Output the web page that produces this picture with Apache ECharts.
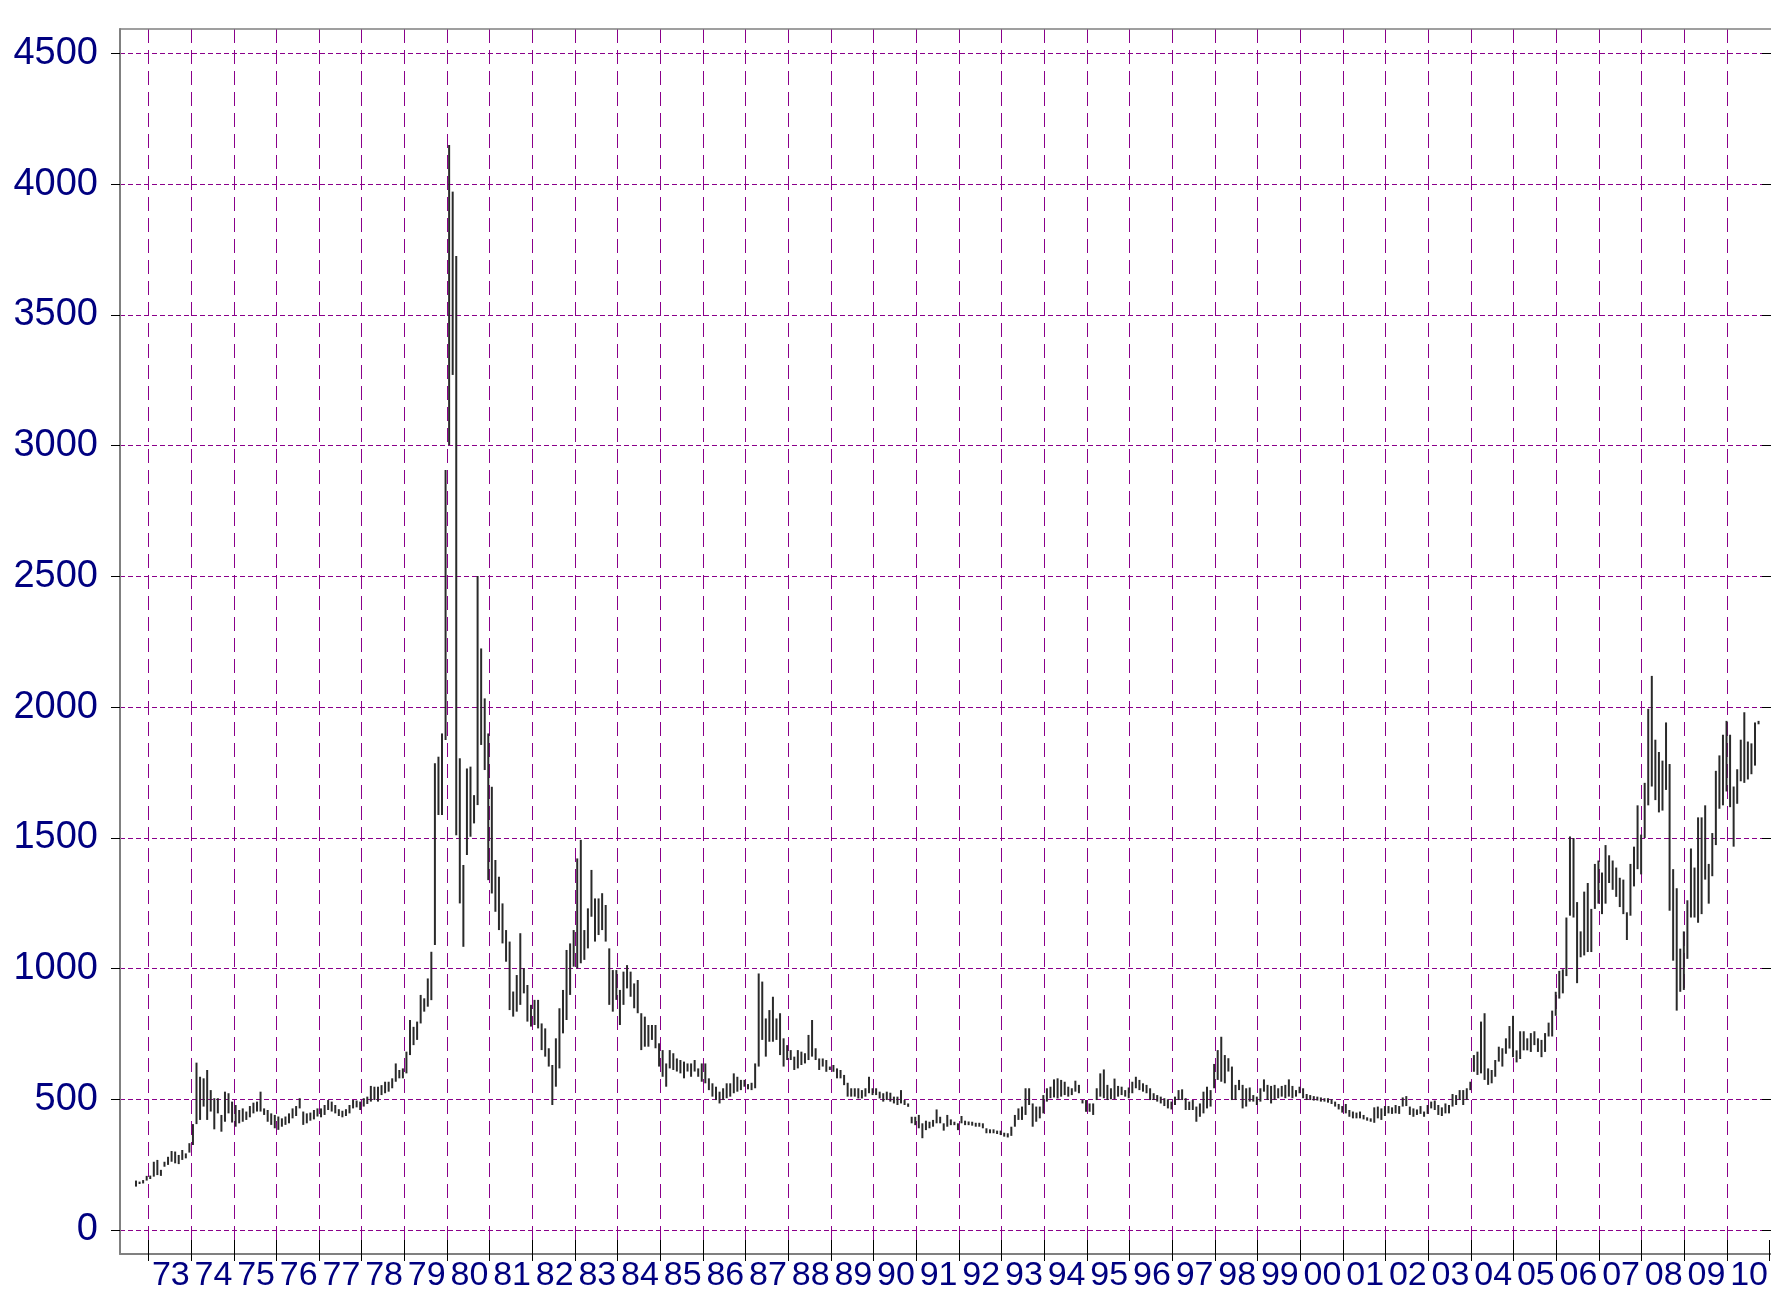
<!DOCTYPE html>
<html><head><meta charset="utf-8">
<script src="https://cdn.jsdelivr.net/npm/echarts@6/dist/echarts.min.js"></script>
<style>html,body{margin:0;padding:0;background:#fff}#chart{width:1771px;height:1293px}</style>
</head><body><div id="chart"></div>
<script>
// Monthly high/low bars, first bar = September 1972
const startYear = 1972, startMonth = 9;
const high = [
  189,185,191,207,
  208,261,268,230,261,280,302,300,287,306,293,332,
  405,640,586,580,612,535,504,504,440,529,523,491,
  478,459,465,453,474,487,491,529,465,459,446,440,
  434,427,434,446,465,474,504,453,446,449,459,465,
  465,478,497,491,478,462,456,462,478,497,495,491,
  504,510,551,548,548,554,567,567,580,637,612,618,
  682,803,777,797,899,886,962,1064,1785,1810,1899,2906,
  4149,3971,3725,1804,1396,1765,1772,1663,2501,2224,2033,1899,
  1695,1415,1351,1249,1147,1103,912,975,1135,1001,937,861,
  880,880,790,771,695,631,733,848,918,1071,1096,1147,
  1421,1492,1147,1230,1377,1268,1268,1288,1243,1077,994,994,
  918,988,1013,988,943,956,829,816,784,784,784,714,
  688,637,688,676,656,650,644,637,637,650,618,637,
  637,580,561,548,529,542,561,561,599,586,574,574,
  558,563,637,981,950,809,841,892,809,829,733,707,
  688,663,688,682,676,746,803,695,656,656,650,625,
  631,618,612,593,563,542,542,542,535,542,586,542,
  542,529,523,529,525,510,510,535,497,484,433,433,
  440,408,418,414,421,461,433,408,440,423,414,408,
  436,418,415,414,410,410,408,389,385,385,380,380,
  372,370,395,440,465,472,542,542,484,472,472,516,
  542,548,576,580,574,567,548,542,571,555,497,497,
  484,484,542,599,614,555,542,579,551,548,535,545,
  567,586,574,561,555,542,523,516,510,504,500,491,
  510,535,538,504,491,497,472,484,529,548,535,635,
  688,739,669,657,625,555,574,555,542,545,516,510,
  542,576,555,551,555,542,551,555,576,551,535,548,
  542,520,516,512,510,507,504,504,500,491,482,474,
  482,459,453,449,453,440,431,427,469,472,465,474,
  474,469,478,474,507,512,472,465,461,474,453,478,
  491,495,478,469,484,478,520,516,535,535,542,567,
  669,682,797,829,618,612,650,701,695,733,780,819,
  687,760,760,733,753,760,733,727,753,793,839,911,
  991,997,1195,1505,1499,1254,1142,1294,1327,1228,1400,1413,
  1367,1472,1433,1413,1386,1347,1340,1215,1400,1466,1624,1512,
  1710,1993,2119,1875,1828,1795,1941,1782,1380,1307,1076,1142,
  1261,1459,1386,1578,1578,1624,1400,1518,1756,1815,1894,1947,
  1894,1696,1762,1875,1980,1868,1861,1941,1947
];
const low = [
  166,176,178,189,
  195,204,210,207,242,249,261,255,252,268,274,296,
  325,405,421,472,421,453,385,446,376,414,446,411,
  395,408,414,421,431,446,453,453,440,414,402,389,
  383,395,402,408,427,436,465,402,408,418,423,434,
  431,440,459,453,446,436,431,436,446,465,469,459,
  472,482,491,497,491,516,523,529,542,567,580,580,
  599,669,707,727,790,835,854,879,1090,1587,1587,1874,
  3002,3270,1510,1249,1083,1434,1504,1555,1625,1855,1759,1338,
  1287,1217,1147,1096,1026,841,816,835,861,905,797,778,
  784,771,688,663,625,478,548,618,752,803,899,1007,
  1001,1020,1033,1077,1198,1103,1128,1147,1103,861,835,880,
  784,861,924,892,848,829,688,701,701,727,695,625,
  586,548,618,612,606,599,580,606,586,606,586,567,
  561,535,510,497,484,497,504,510,523,529,535,548,
  538,535,542,625,727,663,720,720,727,669,625,650,
  650,612,618,631,637,650,663,650,612,625,605,612,
  605,580,580,554,510,510,510,503,503,510,523,516,
  516,503,491,497,491,484,478,484,478,471,408,401,
  389,351,382,389,395,408,408,380,395,401,401,382,
  408,401,401,399,395,395,389,370,370,370,367,363,
  357,354,360,395,421,421,440,478,395,414,427,446,
  491,504,507,503,510,516,510,516,529,523,484,452,
  452,440,497,510,504,497,500,500,510,516,510,504,
  523,542,535,529,523,497,497,491,484,474,465,461,
  478,497,497,459,459,459,414,433,446,465,472,542,
  574,567,561,606,497,497,535,465,472,491,491,478,
  491,529,497,484,497,504,510,504,510,504,510,523,
  504,497,497,495,495,491,491,487,482,472,461,449,
  446,433,427,427,427,423,418,414,410,427,421,436,
  446,444,446,444,472,474,440,433,440,444,433,444,
  465,459,440,436,446,446,472,478,497,478,497,535,
  605,593,599,574,555,561,586,644,625,674,694,661,
  641,654,687,687,681,707,681,661,681,740,740,819,
  885,905,971,1202,1195,944,1043,1050,1063,1063,1228,1248,
  1208,1248,1327,1301,1274,1235,1208,1109,1202,1314,1380,1360,
  1499,1624,1696,1644,1597,1604,1683,1221,1030,839,911,918,
  1037,1195,1195,1175,1208,1340,1248,1353,1472,1611,1624,1677,
  1617,1466,1630,1716,1710,1723,1743,1776,1934
];
const yMin = 0, yMax = 4500, yStep = 500;
const xMin = 1972 + 4 / 12, xMax = 2011;   // visible time span
const firstYear = 1973;                      // first year boundary line / label

const data = high.map((h, i) => {
  const m = startMonth - 1 + i;
  const yr = startYear + Math.floor(m / 12);
  return [yr + ((m % 12) + 0.5) / 12, low[i], h];
});

const W = 1771, LEFT = 120;
const pxPerYear = (W - LEFT) / (xMax - xMin);
const LEFT_YEARS = LEFT + (firstYear - xMin) * pxPerYear;
const LABEL_SHIFT = 1 / pxPerYear;   // small nudge of year labels to the right

const FONT = "'Liberation Sans', Arial, Helvetica, sans-serif";
const GRID = '#8a008a';
const FRAME = '#808080';
const yearFmt = v => {
  const r = Math.round(v);
  if (Math.abs(v - r) > 1e-6 || r < firstYear) return '';
  return String(r % 100).padStart(2, '0');
};

const chart = echarts.init(document.getElementById('chart'), null, {renderer: 'canvas'});
chart.setOption({
  animation: false,
  backgroundColor: '#fff',
  grid: [
    {left: LEFT, right: 0, top: 29, bottom: 39},          // frame
    {left: LEFT, right: 0, top: 53.3, bottom: 63},        // data area (0..4500)
    {left: LEFT_YEARS, right: 0, top: 29, bottom: 39}     // year grid, ticks, labels
  ],
  xAxis: [
    { // frame bottom line
      gridIndex: 0, type: 'value', position: 'bottom', min: xMin, max: xMax,
      axisLine: {show: true, lineStyle: {color: FRAME, width: 2}},
      axisTick: {show: false}, axisLabel: {show: false}, splitLine: {show: false}
    },
    { // frame top line
      gridIndex: 0, type: 'value', position: 'top', min: xMin, max: xMax,
      axisLine: {show: true, lineStyle: {color: FRAME, width: 1.5}},
      axisTick: {show: false}, axisLabel: {show: false}, splitLine: {show: false}
    },
    { // data x axis
      gridIndex: 1, type: 'value', min: xMin, max: xMax, show: false
    },
    { // year boundary grid lines + outward ticks
      gridIndex: 2, type: 'value', position: 'bottom', min: firstYear, max: xMax, interval: 1,
      axisLine: {show: false},
      axisTick: {show: true, length: 10, lineStyle: {color: '#000', width: 1}},
      axisLabel: {show: false},
      splitLine: {show: true, showMaxLine: false, lineStyle: {color: GRID, width: 1, type: [14, 7]}}
    },
    { // inward part of the crossing ticks
      gridIndex: 2, type: 'value', position: 'bottom', min: firstYear, max: xMax, interval: 1,
      axisLine: {show: false},
      axisTick: {show: true, inside: true, length: 11, lineStyle: {color: '#000', width: 1}},
      axisLabel: {show: false}, splitLine: {show: false}
    },
    { // year labels centred inside each year
      gridIndex: 2, type: 'value', position: 'bottom',
      min: firstYear - 0.5 - LABEL_SHIFT, max: xMax - 0.5 - LABEL_SHIFT,
      splitNumber: 39, minInterval: 1, maxInterval: 1,
      axisLine: {show: false}, axisTick: {show: false}, splitLine: {show: false},
      axisLabel: {show: true, formatter: yearFmt, fontSize: 34, color: '#000080',
                  fontFamily: FONT, margin: 8, showMinLabel: false, showMaxLabel: false}
    }
  ],
  yAxis: [
    { // frame left line
      gridIndex: 0, type: 'value', min: 0, max: 1,
      axisLine: {show: true, lineStyle: {color: FRAME, width: 2}},
      axisTick: {show: false}, axisLabel: {show: false}, splitLine: {show: false}
    },
    {
      gridIndex: 1, type: 'value', min: yMin, max: yMax, interval: yStep,
      axisLine: {show: false},
      axisTick: {show: true, length: 9, lineStyle: {color: '#000', width: 1}},
      axisLabel: {show: true, fontSize: 38, color: '#000080', fontFamily: FONT, margin: 22,
                  formatter: v => String(v)},
      splitLine: {show: true, lineStyle: {color: GRID, width: 1, type: [5, 3]}}
    },
    {
      gridIndex: 1, type: 'value', min: yMin, max: yMax, interval: yStep,
      axisLine: {show: false},
      axisTick: {show: true, inside: true, length: 9, lineStyle: {color: '#000', width: 1}},
      axisLabel: {show: false}, splitLine: {show: false}
    },
    { // dummy y axis for year grid
      gridIndex: 2, type: 'value', min: 0, max: 1, show: false
    }
  ],
  series: [{
    type: 'custom',
    xAxisIndex: 2, yAxisIndex: 1,
    encode: {x: 0, y: [1, 2]},
    data: data,
    renderItem: function (params, api) {
      const x = api.value(0);
      const p1 = api.coord([x, api.value(2)]);
      const p2 = api.coord([x, api.value(1)]);
      return {
        type: 'line',
        shape: {x1: p1[0], y1: p1[1], x2: p2[0], y2: p2[1]},
        style: {stroke: '#2a2a2a', lineWidth: 2}
      };
    },
    z: 5
  }]
});
</script>
</body></html>
